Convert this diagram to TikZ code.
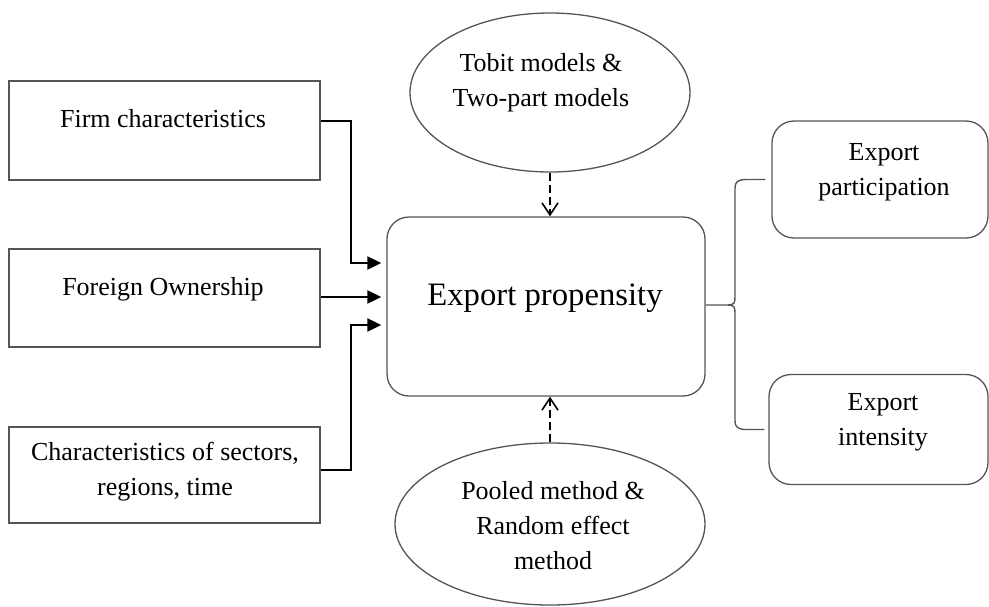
\documentclass[tikz,border=0pt]{standalone}
\usepackage{fontspec}
\setmainfont{Liberation Serif}
\usetikzlibrary{arrows.meta,calc,shapes.geometric}
\definecolor{boxgray}{RGB}{85,85,85}
\begin{document}
\begin{tikzpicture}[x=1pt,y=-1pt,
  sqbox/.style={draw=boxgray,line width=1.5pt,rectangle,inner sep=0pt},
  rbox/.style={draw=boxgray,line width=1.3pt,rectangle,rounded corners=22pt,inner sep=0pt},
  ell/.style={draw=boxgray,line width=1.3pt,ellipse,inner sep=0pt},
  txt/.style={font=\fontsize{26}{35}\selectfont,align=center,inner sep=0pt,anchor=base},
  bigtxt/.style={font=\fontsize{32.7}{40}\selectfont,inner sep=0pt,anchor=base},
  conn/.style={line width=2pt,black,-{Triangle[length=14pt,width=13pt]},shorten >=5pt},
  dasharrow/.style={line width=1.6pt,black,dash pattern=on 8pt off 4pt,-{Straight Barb[length=12pt,width=16pt]}},
  bracestyle/.style={line width=1.4pt,boxgray}]
\useasboundingbox (0,0) rectangle (989,606);
% shapes
\node[sqbox,minimum width=311pt,minimum height=99pt] (firm) at (164.5,130.5) {};
\node[sqbox,minimum width=311pt,minimum height=98pt] (foreign) at (164.5,298) {};
\node[sqbox,minimum width=311pt,minimum height=96pt] (chars) at (164.5,475) {};
\node[rbox,minimum width=318pt,minimum height=179pt] (prop) at (546,306.5) {};
\node[ell,minimum width=280pt,minimum height=159pt] (tobit) at (550,92.5) {};
\node[ell,minimum width=310pt,minimum height=162pt] (pooled) at (550,524) {};
\node[rbox,minimum width=216pt,minimum height=117pt] (part) at (880,179.5) {};
\node[rbox,minimum width=219pt,minimum height=110pt] (inten) at (878.5,429.5) {};
% texts (multi-line nodes: base = baseline of last line)
\node[txt] (firmt) at (163,127) {Firm characteristics};
\node[txt] (foreignt) at (163,295) {Foreign Ownership};
\node[txt] (charst) at (165,495) {Characteristics of sectors,\\regions, time};
\node[txt] (tobitt) at (541,106) {Tobit models \&\\Two-part models};
\node[txt] (pooledt) at (553,569) {Pooled method \&\\Random effect\\method};
\node[bigtxt] (propt) at (545,305) {Export propensity};
\node[txt] (partt) at (884,195) {Export\\participation};
\node[txt] (intent) at (883,445) {Export\\intensity};
% connectors
\draw[conn] (firm.east |- 0,121) -- (351,121) -- (351,263) -- (prop.west |- 0,263);
\draw[conn] (foreign.east |- 0,297) -- (prop.west |- 0,297);
\draw[conn] (chars.east |- 0,470) -- (351,470) -- (351,325) -- (prop.west |- 0,325);
\draw[dasharrow] (tobit.south) -- (tobit.south |- prop.north);
\draw[dasharrow] (pooled.north) -- (pooled.north |- prop.south);
% brace
\draw[bracestyle] (prop.east |- 0,305) -- (728,305)
  .. controls (734,305) and (735,303) .. (735,297) -- (735,188)
  .. controls (735,182) and (738,179.5) .. (746,179.5) -- ($(part.west)+(-6,0)$);
\draw[bracestyle] (728,305)
  .. controls (734,305) and (735,307) .. (735,313) -- (735,421)
  .. controls (735,427) and (738,429.5) .. (746,429.5) -- ($(inten.west)+(-4,0)$);
\end{tikzpicture}
\end{document}
